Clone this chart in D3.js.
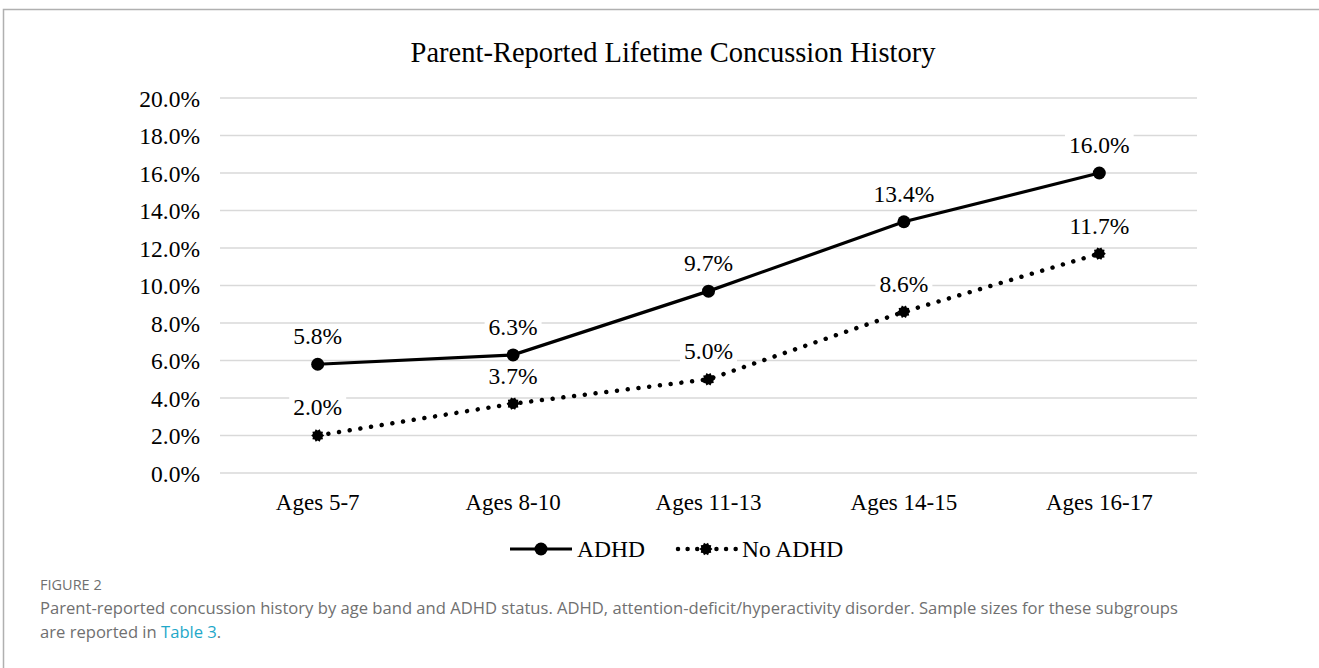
<!DOCTYPE html>
<html>
<head>
<meta charset="utf-8">
<script src="https://cdn.jsdelivr.net/npm/d3@7"></script>
<style>
  html, body { margin: 0; padding: 0; background: #fff; }
  svg { display: block; }
</style>
</head>
<body>
<svg id="chart" width="1319" height="668"></svg>
<script>
// Age bands on the x axis
const ageBands = ["Ages 5-7", "Ages 8-10", "Ages 11-13", "Ages 14-15", "Ages 16-17"];
// Lifetime concussion percentage per age band
const adhdValues = [5.8, 6.3, 9.7, 13.4, 16.0];
const noAdhdValues = [2.0, 3.7, 5.0, 8.6, 11.7];
// Y axis ticks (percent)
const yTicks = [0, 2, 4, 6, 8, 10, 12, 14, 16, 18, 20];
const seriesNames = ["ADHD", "No ADHD"];

const svg = d3.select("#chart");
const serif = "'Liberation Serif', 'Times New Roman', serif";
const sans = "'Open Sans', 'Noto Sans', sans-serif";

// Figure frame (top and left rule)
svg.append("path")
  .attr("d", "M3.5,668 L3.5,9.5 L1319,9.5")
  .attr("fill", "none").attr("stroke", "#b0b0b0").attr("stroke-width", 1.5);

// Title
svg.append("text")
  .attr("x", 673).attr("y", 62)
  .attr("text-anchor", "middle")
  .attr("font-family", serif).attr("font-size", 28.5)
  .text("Parent-Reported Lifetime Concussion History");

const x = d3.scaleBand().domain(ageBands).range([220, 1197]).padding(0);
const y = d3.scaleLinear().domain([0, 20]).range([473, 98]);
const cx = d => x(d) + x.bandwidth() / 2;

// Gridlines
svg.append("g").selectAll("line").data(yTicks).join("line")
  .attr("x1", 220).attr("x2", 1197)
  .attr("y1", d => y(d)).attr("y2", d => y(d))
  .attr("stroke", "#d9d9d9").attr("stroke-width", 1.5);

// Y axis labels
const yAxis = d3.axisLeft(y).tickValues(yTicks).tickSize(0).tickPadding(0)
  .tickFormat(d => d3.format(".1f")(d) + "%");
svg.append("g").attr("transform", "translate(200,0)").call(yAxis)
  .call(g => g.select(".domain").remove())
  .call(g => g.selectAll("text")
    .attr("font-family", serif).attr("font-size", 23.5).attr("fill", "#000")
    .attr("dy", "0.34em"));

// X axis labels
const xAxis = d3.axisBottom(x).tickSize(0).tickPadding(0);
svg.append("g").attr("transform", "translate(0,510)").call(xAxis)
  .call(g => g.select(".domain").remove())
  .call(g => g.selectAll("text")
    .attr("font-family", serif).attr("font-size", 23).attr("fill", "#000")
    .attr("dy", 0));

const line = d3.line().x(d => cx(d[0])).y(d => y(d[1]));

// Spiky marker for the No ADHD series
function spikyPath(r, n) {
  const pts = [];
  for (let i = 0; i < n * 2; i++) {
    const a = Math.PI * i / n;
    const rr = i % 2 === 0 ? r : r * 0.78;
    pts.push([rr * Math.cos(a), rr * Math.sin(a)]);
  }
  return "M" + pts.map(p => p.join(",")).join("L") + "Z";
}

const noData = ageBands.map((b, i) => [b, noAdhdValues[i]]);
const adhdData = ageBands.map((b, i) => [b, adhdValues[i]]);

// No ADHD: dotted line
svg.append("path").datum(noData)
  .attr("d", line).attr("fill", "none")
  .attr("stroke", "#000").attr("stroke-width", 4.5)
  .attr("stroke-linecap", "round").attr("stroke-dasharray", "0.01 10.8");
svg.append("g").selectAll("path").data(noData).join("path")
  .attr("transform", d => `translate(${cx(d[0])},${y(d[1])})`)
  .attr("d", spikyPath(6.5, 10)).attr("fill", "#000");

// ADHD: solid line
svg.append("path").datum(adhdData)
  .attr("d", line).attr("fill", "none")
  .attr("stroke", "#000").attr("stroke-width", 3.2);
svg.append("g").selectAll("circle").data(adhdData).join("circle")
  .attr("cx", d => cx(d[0])).attr("cy", d => y(d[1])).attr("r", 6.5)
  .attr("fill", "#000");

// Value labels with a white backing
function valueLabels(data) {
  const g = svg.append("g");
  data.forEach(d => {
    const lx = cx(d[0]), ly = y(d[1]) - 28;
    const t = g.append("text")
      .attr("x", lx).attr("y", ly).attr("dy", "0.34em")
      .attr("text-anchor", "middle")
      .attr("font-family", serif).attr("font-size", 23.5)
      .text(d3.format(".1f")(d[1]) + "%");
    const bb = t.node().getBBox();
    g.insert("rect", "text")
      .attr("x", bb.x - 4).attr("y", ly - 11).attr("width", bb.width + 8).attr("height", 22)
      .attr("fill", "#fff");
  });
}
valueLabels(adhdData);
valueLabels(noData);

// Legend
const leg = svg.append("g");
leg.append("line").attr("x1", 510).attr("x2", 572).attr("y1", 549).attr("y2", 549)
  .attr("stroke", "#000").attr("stroke-width", 3.2);
leg.append("circle").attr("cx", 541).attr("cy", 549).attr("r", 6.5).attr("fill", "#000");
leg.append("text").attr("x", 577).attr("y", 557)
  .attr("font-family", serif).attr("font-size", 23.5).text(seriesNames[0]);
leg.append("line").attr("x1", 678).attr("x2", 736).attr("y1", 549).attr("y2", 549)
  .attr("stroke", "#000").attr("stroke-width", 4.5)
  .attr("stroke-linecap", "round").attr("stroke-dasharray", "0.01 9.6");
leg.append("path").attr("transform", "translate(706,549)")
  .attr("d", spikyPath(6.5, 10)).attr("fill", "#000");
leg.append("text").attr("x", 742).attr("y", 557)
  .attr("font-family", serif).attr("font-size", 23.5).text(seriesNames[1]);

// Caption
svg.append("text").attr("x", 40).attr("y", 590)
  .attr("font-family", sans).attr("font-size", 14.5).attr("fill", "#707070")
  .text("FIGURE 2");
svg.append("text").attr("x", 40).attr("y", 614)
  .attr("font-family", sans).attr("font-size", 16.6).attr("fill", "#707070")
  .text("Parent-reported concussion history by age band and ADHD status. ADHD, attention-deficit/hyperactivity disorder. Sample sizes for these subgroups");
const cap2 = svg.append("text").attr("x", 40).attr("y", 638)
  .attr("font-family", sans).attr("font-size", 16.6).attr("fill", "#707070");
cap2.append("tspan").text("are reported in ");
cap2.append("tspan").attr("fill", "#1fa8c9").text("Table 3");
cap2.append("tspan").text(".");
</script>
</body>
</html>
